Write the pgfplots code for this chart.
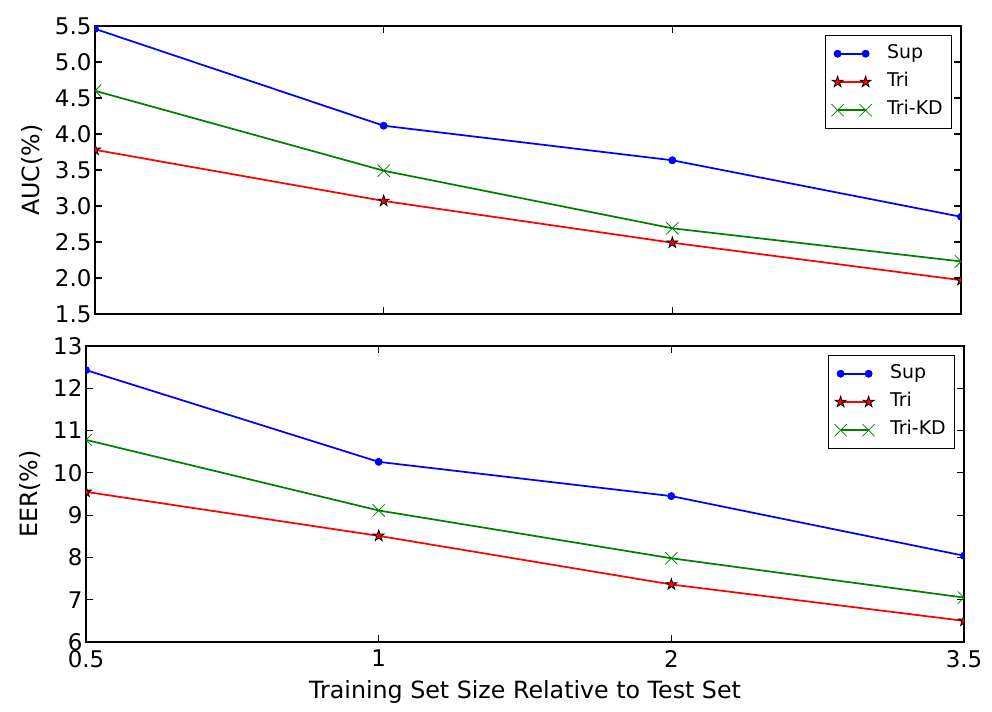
\documentclass[border=0pt]{standalone}
\usepackage{fontspec}
\setmainfont{DejaVu Sans}
\usepackage{pgfplots}
\pgfplotsset{compat=1.18}
\definecolor{mplblue}{rgb}{0,0,1}
\definecolor{mplgreen}{rgb}{0,0.5,0}
\definecolor{mplred}{rgb}{1,0,0}
\pgfdeclareplotmark{fstar}{%
  \pgfpathmoveto{\pgfqpointpolar{90}{\pgfplotmarksize}}%
  \pgfpathlineto{\pgfqpointpolar{126}{0.382\pgfplotmarksize}}%
  \pgfpathlineto{\pgfqpointpolar{162}{\pgfplotmarksize}}%
  \pgfpathlineto{\pgfqpointpolar{198}{0.382\pgfplotmarksize}}%
  \pgfpathlineto{\pgfqpointpolar{234}{\pgfplotmarksize}}%
  \pgfpathlineto{\pgfqpointpolar{270}{0.382\pgfplotmarksize}}%
  \pgfpathlineto{\pgfqpointpolar{306}{\pgfplotmarksize}}%
  \pgfpathlineto{\pgfqpointpolar{342}{0.382\pgfplotmarksize}}%
  \pgfpathlineto{\pgfqpointpolar{18}{\pgfplotmarksize}}%
  \pgfpathlineto{\pgfqpointpolar{54}{0.382\pgfplotmarksize}}%
  \pgfpathclose
  \pgfusepathqfillstroke
}
\pgfplotsset{
  myaxis/.style={
    scale only axis, anchor=south west,
    xmin=0, xmax=3, xtick={0,1,2,3},
    tick align=inside, tick pos=both,
    major tick length=5pt,
    every tick/.style={black, line width=0.8pt},
    axis line style={line width=1.1pt},
    clip marker paths=true,
    /pgf/number format/assume math mode=true,
    tick label style={font=\fontsize{17.2}{20}\selectfont},
    label style={font=\fontsize{17.8}{20}\selectfont},
    yticklabel style={inner sep=0pt, xshift=-2.5pt},
    xticklabel style={inner sep=0pt, yshift=-6pt},
    legend style={at={(rel axis cs:1,1)}, anchor=north east, xshift=-7pt, yshift=-7pt,
      draw=black, line width=0.8pt, font=\fontsize{14.2}{16}\selectfont,
      inner sep=4.3pt, row sep=3.0pt, column sep=9.5pt,
      nodes={inner sep=2pt, text height=10.6pt, text depth=3.6pt}},
    legend cell align=left,
    legend image code/.code={\draw[##1] plot coordinates {(0pt,0pt) (21pt,0pt)};},
  },
  supstyle/.style={color=mplblue, line width=1.3pt, mark=*, mark size=2.7pt, mark options={solid, fill=mplblue, draw=mplblue, line width=0.5pt}},
  tristyle/.style={color=mplred, line width=1.3pt, mark=fstar, mark size=4.3pt, mark options={solid, fill=mplred, draw=black, line width=0.6pt}},
  kdstyle/.style={color=mplgreen, line width=1.3pt, mark=x, mark size=6.5pt, mark options={solid, draw=mplgreen, line width=0.6pt}},
}
\begin{document}
\begin{tikzpicture}
\useasboundingbox (0,0) rectangle (744pt,534pt);
% top: AUC
\begin{axis}[myaxis,
  at={(71.25pt,298.5pt)}, width=649.5pt, height=216pt,
  ymin=1.5, ymax=5.5, ytick={1.5,2,2.5,3,3.5,4,4.5,5,5.5},
  yticklabel style={/pgf/number format/.cd, fixed, fixed zerofill, precision=1},
  xticklabels={},
  ylabel={AUC(\%)},
  ylabel style={at={(axis description cs:-0.0855,0.5)}, anchor=north, inner sep=0pt},
]
\addplot[supstyle] coordinates {(0,5.46) (1,4.115) (2,3.635) (3,2.85)};
\addlegendentry{Sup}
\addplot[tristyle] coordinates {(0,3.78) (1,3.07) (2,2.49) (3,1.97)};
\addlegendentry{Tri}
\addplot[kdstyle] coordinates {(0,4.60) (1,3.49) (2,2.69) (3,2.23)};
\addlegendentry{Tri-KD}
\end{axis}
% bottom: EER
\begin{axis}[myaxis,
  at={(64.5pt,52.5pt)}, width=658.5pt, height=222pt,
  ymin=6, ymax=13, ytick={6,7,8,9,10,11,12,13},
  xticklabels={0.5,1,2,3.5},
  ylabel={EER(\%)},
  ylabel style={at={(axis description cs:-0.076,0.5)}, anchor=north, inner sep=0pt},
  xlabel={Training Set Size Relative to Test Set},
  xlabel style={at={(axis description cs:0.5,0)}, anchor=north, inner sep=0pt, yshift=-28.5pt},
]
\addplot[supstyle] coordinates {(0,12.43) (1,10.26) (2,9.45) (3,8.04)};
\addlegendentry{Sup}
\addplot[tristyle] coordinates {(0,9.55) (1,8.51) (2,7.36) (3,6.50)};
\addlegendentry{Tri}
\addplot[kdstyle] coordinates {(0,10.78) (1,9.11) (2,7.98) (3,7.05)};
\addlegendentry{Tri-KD}
\end{axis}
\end{tikzpicture}
\end{document}
